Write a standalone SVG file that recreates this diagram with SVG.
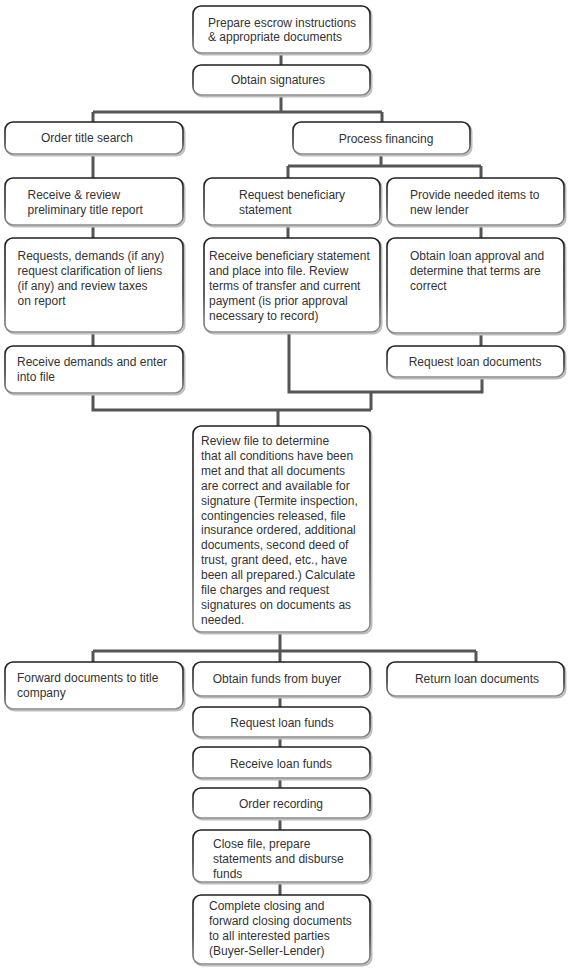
<svg xmlns="http://www.w3.org/2000/svg" width="570" height="972" viewBox="0 0 570 972">
<defs>
<linearGradient id="bd" x1="0" y1="0" x2="0" y2="1">
<stop offset="0" stop-color="#1e1e1e"/>
<stop offset="0.6" stop-color="#3a3a3a"/>
<stop offset="1" stop-color="#8c8c8c"/>
</linearGradient>
</defs>
<style>
.b{fill:#fff;stroke:url(#bd);stroke-width:1.6}
.s{fill:none;stroke:#bdbdbd;stroke-width:2}
.t{font-family:"Liberation Sans",Arial,sans-serif;font-size:12px;fill:#333}
.m{text-anchor:middle}
.c{fill:none;stroke:#555;stroke-width:3}
</style>
<rect width="570" height="972" fill="#fff"/>
<g id="connectors">
<path class="c" d="M281 54V65M281 96V112M93 112H382M93 112V122M382 112V122"/>
<path class="c" d="M93 155V178M381 155V166M288 166H481M288 166V178M481 166V178"/>
<path class="c" d="M93 226V238M288 226V238M481 226V238"/>
<path class="c" d="M93 333V346M481 334V346"/>
<path class="c" d="M289 333V392H482V378M371 392V410M93 394V410H371M278 410V426"/>
<path class="c" d="M280 633V662M93 651H476M93 651V662M476 651V662"/>
<path class="c" d="M280 697V707M280 738V747M280 779V788M280 819V830M280 883V895"/>
</g>
<g id="n1"><rect class="s" x="194.5" y="7.5" width="177" height="47" rx="8"/><rect class="b" x="193" y="6" width="177" height="47" rx="8"/>
<text class="t" x="208" y="26.5">Prepare escrow instructions</text><text class="t" x="208" y="40.5">&amp; appropriate documents</text></g>
<g id="n2"><rect class="s" x="194.5" y="66.5" width="177" height="30" rx="8"/><rect class="b" x="193" y="65" width="177" height="30" rx="8"/>
<text class="t m" x="278" y="83.5">Obtain signatures</text></g>
<g id="n3"><rect class="s" x="6.5" y="123.5" width="178" height="32" rx="8"/><rect class="b" x="5" y="122" width="178" height="32" rx="8"/>
<text class="t m" x="87" y="142">Order title search</text></g>
<g id="n4"><rect class="s" x="294.5" y="123.5" width="177" height="32" rx="8"/><rect class="b" x="293" y="122" width="177" height="32" rx="8"/>
<text class="t m" x="386" y="142.5">Process financing</text></g>
<g id="n5"><rect class="s" x="6.5" y="179.5" width="178" height="47" rx="8"/><rect class="b" x="5" y="178" width="178" height="47" rx="8"/>
<text class="t" x="27.5" y="198.5">Receive &amp; review</text><text class="t" x="27.5" y="213.5">preliminary title report</text></g>
<g id="n6"><rect class="s" x="205.5" y="179.5" width="176" height="47" rx="8"/><rect class="b" x="204" y="178" width="176" height="47" rx="8"/>
<text class="t" x="239" y="198.5">Request beneficiary</text><text class="t" x="239" y="213.5">statement</text></g>
<g id="n7"><rect class="s" x="388.5" y="179.5" width="177" height="47" rx="8"/><rect class="b" x="387" y="178" width="177" height="47" rx="8"/>
<text class="t" x="410" y="198.5">Provide needed items to</text><text class="t" x="410" y="213.5">new lender</text></g>
<g id="n8"><rect class="s" x="6.5" y="239.5" width="178" height="94" rx="8"/><rect class="b" x="5" y="238" width="178" height="94" rx="8"/>
<text class="t" x="17.5" y="259.5">Requests, demands (if any)</text><text class="t" x="17.5" y="274.5">request clarification of liens</text><text class="t" x="17.5" y="289.5">(if any) and review taxes</text><text class="t" x="17.5" y="304.5">on report</text></g>
<g id="n9"><rect class="s" x="205.5" y="239.5" width="176" height="94" rx="8"/><rect class="b" x="204" y="238" width="176" height="94" rx="8"/>
<text class="t" x="209" y="259.5">Receive beneficiary statement</text><text class="t" x="209" y="274.5">and place into file. Review</text><text class="t" x="209" y="289.5">terms of transfer and current</text><text class="t" x="209" y="304.5">payment (is prior approval</text><text class="t" x="209" y="319.5">necessary to record)</text></g>
<g id="n10"><rect class="s" x="388.5" y="239.5" width="177" height="95" rx="8"/><rect class="b" x="387" y="238" width="177" height="95" rx="8"/>
<text class="t" x="410" y="259.5">Obtain loan approval and</text><text class="t" x="410" y="274.5">determine that terms are</text><text class="t" x="410" y="289.5">correct</text></g>
<g id="n11"><rect class="s" x="6.5" y="347.5" width="178" height="47" rx="8"/><rect class="b" x="5" y="346" width="178" height="47" rx="8"/>
<text class="t" x="17" y="365.5">Receive demands and enter</text><text class="t" x="17" y="380.5">into file</text></g>
<g id="n12"><rect class="s" x="388.5" y="347.5" width="177" height="31" rx="8"/><rect class="b" x="387" y="346" width="177" height="31" rx="8"/>
<text class="t m" x="475" y="366">Request loan documents</text></g>
<g id="n13"><rect class="s" x="194.5" y="427.5" width="177" height="206" rx="8"/><rect class="b" x="193" y="426" width="177" height="206" rx="8"/>
<text class="t" x="201" y="445">Review file to determine</text>
<text class="t" x="201" y="459.9">that all conditions have been</text>
<text class="t" x="201" y="474.8">met and that all documents</text>
<text class="t" x="201" y="489.7">are correct and available for</text>
<text class="t" x="201" y="504.6">signature (Termite inspection,</text>
<text class="t" x="201" y="519.5">contingencies released, file</text>
<text class="t" x="201" y="534.4">insurance ordered, additional</text>
<text class="t" x="201" y="549.3">documents, second deed of</text>
<text class="t" x="201" y="564.2">trust, grant deed, etc., have</text>
<text class="t" x="201" y="579.1">been all prepared.) Calculate</text>
<text class="t" x="201" y="594">file charges and request</text>
<text class="t" x="201" y="608.9">signatures on documents as</text>
<text class="t" x="201" y="623.8">needed.</text></g>
<g id="n14"><rect class="s" x="6.5" y="663.5" width="178" height="47" rx="8"/><rect class="b" x="5" y="662" width="178" height="47" rx="8"/>
<text class="t" x="17" y="682">Forward documents to title</text><text class="t" x="17" y="697">company</text></g>
<g id="n15"><rect class="s" x="194.5" y="663.5" width="177" height="34" rx="8"/><rect class="b" x="193" y="662" width="177" height="34" rx="8"/>
<text class="t m" x="277" y="682.5">Obtain funds from buyer</text></g>
<g id="n16"><rect class="s" x="388.5" y="663.5" width="177" height="34" rx="8"/><rect class="b" x="387" y="662" width="177" height="34" rx="8"/>
<text class="t m" x="477" y="682.5">Return loan documents</text></g>
<g id="n17"><rect class="s" x="194.5" y="708.5" width="177" height="30" rx="8"/><rect class="b" x="193" y="707" width="177" height="30" rx="8"/>
<text class="t m" x="282" y="726.5">Request loan funds</text></g>
<g id="n18"><rect class="s" x="194.5" y="748.5" width="177" height="31" rx="8"/><rect class="b" x="193" y="747" width="177" height="31" rx="8"/>
<text class="t m" x="281" y="767.5">Receive loan funds</text></g>
<g id="n19"><rect class="s" x="194.5" y="789.5" width="177" height="30" rx="8"/><rect class="b" x="193" y="788" width="177" height="30" rx="8"/>
<text class="t m" x="281" y="807.5">Order recording</text></g>
<g id="n20"><rect class="s" x="194.5" y="831.5" width="177" height="52" rx="8"/><rect class="b" x="193" y="830" width="177" height="52" rx="8"/>
<text class="t" x="213" y="847.5">Close file, prepare</text><text class="t" x="213" y="862.5">statements and disburse</text><text class="t" x="213" y="877.5">funds</text></g>
<g id="n21"><rect class="s" x="194.5" y="896.5" width="177" height="69" rx="8"/><rect class="b" x="193" y="895" width="177" height="69" rx="8"/>
<text class="t" x="209" y="909.5">Complete closing and</text><text class="t" x="209" y="924.5">forward closing documents</text><text class="t" x="209" y="939.5">to all interested parties</text><text class="t" x="209" y="954.5">(Buyer-Seller-Lender)</text></g>
</svg>
